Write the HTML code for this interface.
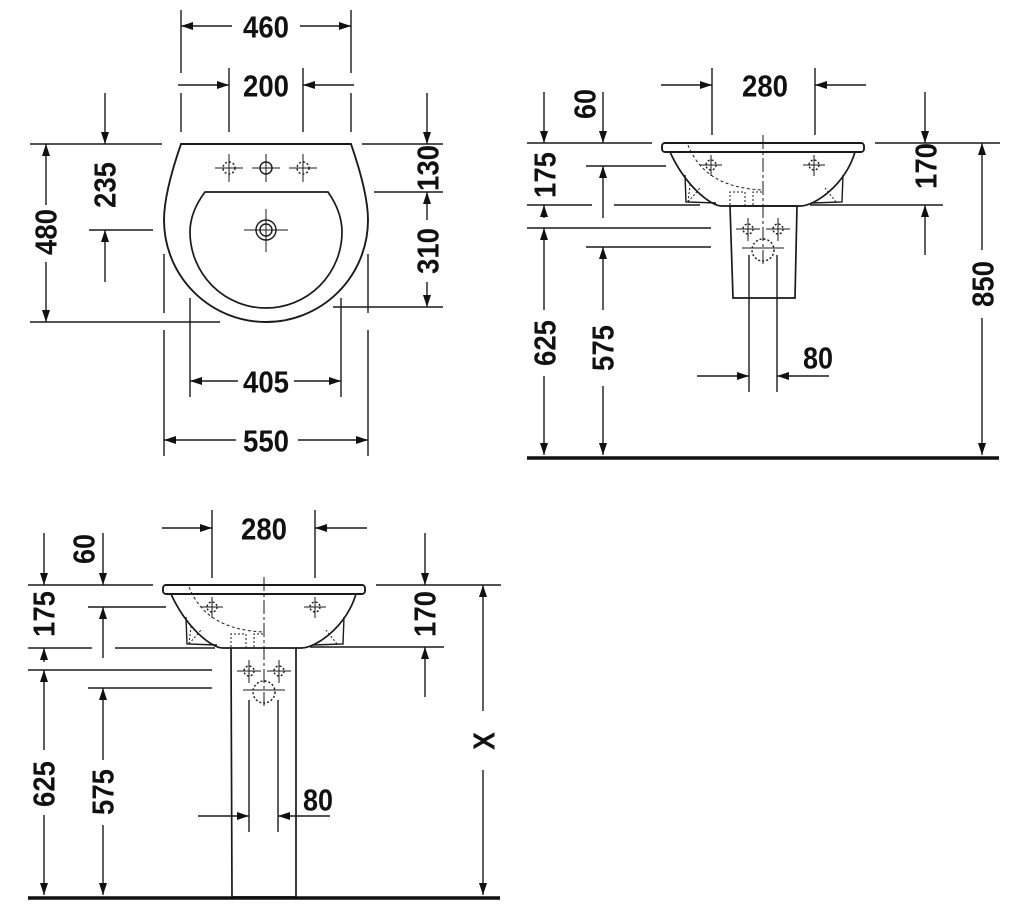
<!DOCTYPE html>
<html><head><meta charset="utf-8"><style>
html,body{margin:0;padding:0;background:#fff;}
svg{display:block;}
text{font-family:"Liberation Sans Narrow","Liberation Sans",sans-serif;font-weight:bold;font-size:31px;fill:#111;text-anchor:middle;dominant-baseline:central;}
</style></head><body>
<svg width="1024" height="919" viewBox="0 0 1024 919" xmlns="http://www.w3.org/2000/svg">
<defs>
<marker id="a" viewBox="0 0 12 8" refX="12" refY="4" markerWidth="12" markerHeight="8" markerUnits="userSpaceOnUse" orient="auto"><path d="M0,0 L12,4 L0,8 Z" fill="#111"/></marker>
</defs>
<g stroke="#1a1a1a" stroke-width="1.4" fill="none">
<!-- ===== TOP LEFT ===== -->
<line x1="181" y1="10" x2="181" y2="73"/><line x1="351" y1="10" x2="351" y2="73"/>
<line x1="181" y1="93" x2="181" y2="132"/><line x1="351" y1="93" x2="351" y2="132"/>
<line x1="229" y1="68" x2="229" y2="132"/><line x1="303" y1="68" x2="303" y2="132"/>
<line x1="232" y1="26" x2="181" y2="26" marker-end="url(#a)"/><line x1="300" y1="26" x2="351" y2="26" marker-end="url(#a)"/>
<line x1="178" y1="85" x2="229" y2="85" marker-end="url(#a)"/><line x1="354" y1="85" x2="303" y2="85" marker-end="url(#a)"/>
<path d="M181,144 L351,144 C360,170 368,200 368,220 A102,102 0 0 1 164,220 C164,200 172,170 181,144 Z" stroke-width="1.9"/>
<path d="M205,192 L328,192 Q342,212 342,232 A76,76 0 0 1 190,232 Q190,212 205,192 Z" stroke-width="1.7"/>
<circle cx="229" cy="168" r="6" stroke-dasharray="2,2"/><circle cx="266" cy="168" r="6"/><circle cx="303" cy="168" r="6" stroke-dasharray="2,2"/>
<path d="M215,168 H243 M229,154 V182 M252,168 H280 M266,154 V182 M289,168 H317 M303,154 V182" stroke-width="1"/>
<circle cx="266" cy="230" r="10"/><circle cx="266" cy="230" r="6"/>
<path d="M244,230 H288 M266,209 V252" stroke-width="1"/>
<line x1="30" y1="144" x2="162" y2="144"/><line x1="30" y1="322" x2="220" y2="322"/>
<line x1="46" y1="205" x2="46" y2="144" marker-end="url(#a)"/><line x1="46" y1="262" x2="46" y2="322" marker-end="url(#a)"/>
<line x1="105" y1="93" x2="105" y2="144" marker-end="url(#a)"/><line x1="105" y1="282" x2="105" y2="230" marker-end="url(#a)"/>
<line x1="89" y1="230" x2="153" y2="230"/>
<line x1="362" y1="144" x2="443" y2="144"/><line x1="374" y1="192" x2="443" y2="192"/><line x1="333" y1="307" x2="443" y2="307"/>
<line x1="427" y1="93" x2="427" y2="144" marker-end="url(#a)"/>
<line x1="427" y1="220" x2="427" y2="192" marker-end="url(#a)"/><line x1="427" y1="282" x2="427" y2="307" marker-end="url(#a)"/>
<line x1="164" y1="254" x2="164" y2="313"/><line x1="164" y1="330" x2="164" y2="456"/>
<line x1="368" y1="254" x2="368" y2="313"/><line x1="368" y1="330" x2="368" y2="456"/>
<line x1="190" y1="298" x2="190" y2="397"/><line x1="341" y1="298" x2="341" y2="397"/>
<line x1="238" y1="381" x2="190" y2="381" marker-end="url(#a)"/><line x1="294" y1="381" x2="341" y2="381" marker-end="url(#a)"/>
<line x1="236" y1="440" x2="164" y2="440" marker-end="url(#a)"/><line x1="298" y1="440" x2="368" y2="440" marker-end="url(#a)"/>

<!-- ===== TOP RIGHT ===== -->
<g id="basin">
<rect x="662" y="143" width="202" height="9" rx="3" stroke-width="1.9"/>
<path d="M670,152 C685,185 710,206 722,206 L800,206 C815,206 845,185 855,152" stroke-width="1.7"/>
<polyline points="685,175 686,202 716,203"/><polyline points="843,175 842,202 812,203"/>
<path d="M688,202 L700,188 M836,202 L825,188 M688,202 L690,185" stroke-dasharray="2,2" stroke-width="1"/>
<path d="M688,145 C700,175 725,188 762,190" stroke-dasharray="3,2.5" stroke-width="1"/>
<path d="M730,205 V192 H745 V205 M753,205 V192 H762" stroke-dasharray="2,2" stroke-width="1"/>
<circle cx="711" cy="165" r="5" stroke-dasharray="2,2"/><circle cx="814" cy="165" r="5" stroke-dasharray="2,2"/>
<path d="M700,165 H722 M711,155 V176 M803,165 H825 M814,155 V176" stroke-width="1"/>
<line x1="763" y1="135" x2="763" y2="265" stroke-dasharray="14,3,3,3" stroke-width="1"/>
<circle cx="748" cy="229" r="5" stroke-dasharray="2,2"/><circle cx="778" cy="229" r="5" stroke-dasharray="2,2"/>
<circle cx="763" cy="250" r="11" stroke-dasharray="2,2"/>
<path d="M736,229 H760 M748,218 V241 M766,229 H790 M778,218 V241 M742,248 H784" stroke-width="1"/>
</g>
<path d="M730,206 L733,298 L795,298 L797,206 Z" stroke-width="1.7"/>
<line x1="712" y1="68" x2="712" y2="135"/><line x1="815" y1="68" x2="815" y2="135"/>
<line x1="661" y1="85" x2="712" y2="85" marker-end="url(#a)"/><line x1="866" y1="85" x2="815" y2="85" marker-end="url(#a)"/>
<line x1="749" y1="255" x2="749" y2="392"/><line x1="777" y1="255" x2="777" y2="392"/>
<line x1="697" y1="376" x2="749" y2="376" marker-end="url(#a)"/><line x1="829" y1="376" x2="777" y2="376" marker-end="url(#a)"/>
<line x1="527" y1="143" x2="652" y2="143"/><line x1="875" y1="143" x2="1000" y2="143"/>
<line x1="586" y1="166" x2="666" y2="166"/>
<line x1="527" y1="205" x2="592" y2="205"/><line x1="614" y1="205" x2="700" y2="205"/><line x1="810" y1="205" x2="943" y2="205"/>
<line x1="527" y1="228" x2="711" y2="228"/><line x1="586" y1="247" x2="711" y2="247"/>
<line x1="544" y1="92" x2="544" y2="143" marker-end="url(#a)"/><line x1="603" y1="92" x2="603" y2="143" marker-end="url(#a)"/>
<line x1="544" y1="218" x2="544" y2="205" marker-end="url(#a)"/>
<line x1="544" y1="310" x2="544" y2="228" marker-end="url(#a)"/><line x1="544" y1="376" x2="544" y2="455" marker-end="url(#a)"/>
<line x1="603" y1="218" x2="603" y2="166" marker-end="url(#a)"/>
<line x1="603" y1="310" x2="603" y2="247" marker-end="url(#a)"/><line x1="603" y1="386" x2="603" y2="455" marker-end="url(#a)"/>
<line x1="925" y1="92" x2="925" y2="143" marker-end="url(#a)"/><line x1="925" y1="255" x2="925" y2="205" marker-end="url(#a)"/>
<line x1="982" y1="250" x2="982" y2="143" marker-end="url(#a)"/><line x1="982" y1="318" x2="982" y2="455" marker-end="url(#a)"/>
<line x1="527" y1="458" x2="999" y2="458" stroke-width="3.5" stroke="#111"/>

<!-- ===== BOTTOM LEFT ===== -->
<use href="#basin" transform="translate(-499,442)"/>
<path d="M231,648 L232,897 L296,897 L296,648" stroke-width="1.7"/>
<line x1="212" y1="510" x2="212" y2="578"/><line x1="315" y1="510" x2="315" y2="578"/>
<line x1="162" y1="528" x2="212" y2="528" marker-end="url(#a)"/><line x1="367" y1="528" x2="315" y2="528" marker-end="url(#a)"/>
<line x1="249" y1="700" x2="249" y2="832"/><line x1="278" y1="700" x2="278" y2="832"/>
<line x1="198" y1="816" x2="249" y2="816" marker-end="url(#a)"/><line x1="330" y1="816" x2="278" y2="816" marker-end="url(#a)"/>
<line x1="28" y1="585" x2="153" y2="585"/><line x1="376" y1="585" x2="501" y2="585"/>
<line x1="88" y1="607" x2="166" y2="607"/>
<line x1="28" y1="648" x2="92" y2="648"/><line x1="115" y1="648" x2="215" y2="648"/><line x1="310" y1="647" x2="444" y2="647"/>
<line x1="28" y1="670" x2="212" y2="670"/><line x1="88" y1="688" x2="212" y2="688"/>
<line x1="44" y1="533" x2="44" y2="585" marker-end="url(#a)"/><line x1="103" y1="533" x2="103" y2="585" marker-end="url(#a)"/>
<line x1="44" y1="662" x2="44" y2="648" marker-end="url(#a)"/>
<line x1="44" y1="750" x2="44" y2="670" marker-end="url(#a)"/><line x1="44" y1="815" x2="44" y2="895" marker-end="url(#a)"/>
<line x1="103" y1="658" x2="103" y2="607" marker-end="url(#a)"/>
<line x1="103" y1="760" x2="103" y2="688" marker-end="url(#a)"/><line x1="103" y1="825" x2="103" y2="895" marker-end="url(#a)"/>
<line x1="425" y1="533" x2="425" y2="585" marker-end="url(#a)"/><line x1="425" y1="697" x2="425" y2="647" marker-end="url(#a)"/>
<line x1="483" y1="711" x2="483" y2="585" marker-end="url(#a)"/><line x1="483" y1="770" x2="483" y2="895" marker-end="url(#a)"/>
<line x1="28" y1="898" x2="500" y2="898" stroke-width="3.5" stroke="#111"/>
</g>

<!-- texts -->
<text x="266" y="27" textLength="46" lengthAdjust="spacingAndGlyphs">460</text>
<text x="266" y="86" textLength="46" lengthAdjust="spacingAndGlyphs">200</text>
<text x="266" y="382" textLength="46" lengthAdjust="spacingAndGlyphs">405</text>
<text x="266" y="441" textLength="46" lengthAdjust="spacingAndGlyphs">550</text>
<text transform="translate(46,232) rotate(-90)" textLength="46" lengthAdjust="spacingAndGlyphs">480</text>
<text transform="translate(105,185) rotate(-90)" textLength="46" lengthAdjust="spacingAndGlyphs">235</text>
<text transform="translate(428,168) rotate(-90)" textLength="46" lengthAdjust="spacingAndGlyphs">130</text>
<text transform="translate(428,251) rotate(-90)" textLength="46" lengthAdjust="spacingAndGlyphs">310</text>

<text x="765" y="86" textLength="46" lengthAdjust="spacingAndGlyphs">280</text>
<text x="818" y="358" textLength="30" lengthAdjust="spacingAndGlyphs">80</text>
<text transform="translate(585,104) rotate(-90)" textLength="30" lengthAdjust="spacingAndGlyphs">60</text>
<text transform="translate(545,175) rotate(-90)" textLength="46" lengthAdjust="spacingAndGlyphs">175</text>
<text transform="translate(545,343) rotate(-90)" textLength="46" lengthAdjust="spacingAndGlyphs">625</text>
<text transform="translate(603,348) rotate(-90)" textLength="46" lengthAdjust="spacingAndGlyphs">575</text>
<text transform="translate(926,166) rotate(-90)" textLength="46" lengthAdjust="spacingAndGlyphs">170</text>
<text transform="translate(983,284) rotate(-90)" textLength="46" lengthAdjust="spacingAndGlyphs">850</text>

<text x="264" y="529" textLength="46" lengthAdjust="spacingAndGlyphs">280</text>
<text x="318" y="800" textLength="30" lengthAdjust="spacingAndGlyphs">80</text>
<text transform="translate(84,549) rotate(-90)" textLength="30" lengthAdjust="spacingAndGlyphs">60</text>
<text transform="translate(44,614) rotate(-90)" textLength="46" lengthAdjust="spacingAndGlyphs">175</text>
<text transform="translate(44,784) rotate(-90)" textLength="46" lengthAdjust="spacingAndGlyphs">625</text>
<text transform="translate(103,792) rotate(-90)" textLength="46" lengthAdjust="spacingAndGlyphs">575</text>
<text transform="translate(425,614) rotate(-90)" textLength="46" lengthAdjust="spacingAndGlyphs">170</text>
<text transform="translate(484,741) rotate(-90)" textLength="18" lengthAdjust="spacingAndGlyphs">X</text>
</svg>
</body></html>
